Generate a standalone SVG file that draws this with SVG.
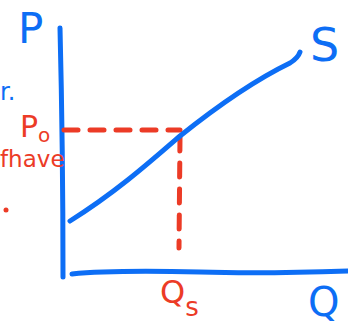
<svg xmlns="http://www.w3.org/2000/svg" width="348" height="331" viewBox="0 0 348 331">
<style>
.b{fill:none;stroke:#0d6ef5;stroke-width:5;stroke-linecap:round;stroke-linejoin:round}
.r{fill:none;stroke:#ec3b26;stroke-width:5;stroke-linecap:round;stroke-dasharray:14 12}
.tb{fill:#0d6ef5;font-family:"DejaVu Sans",sans-serif}
.tr{fill:#ec3b26;font-family:"DejaVu Sans",sans-serif}
</style>
<rect width="348" height="331" fill="#fff"/>
<g id="connectors">
<path class="b" d="M60,28 Q63,150 63,277"/>
<path class="b" d="M72,274 Q110,270 200,272 Q260,274 348,271"/>
<path class="r" d="M64,130 L180,130"/>
<path class="r" d="M180,137 L179,248"/>
</g>
<g id="supply">
<path class="b" d="M70,221 C115,193 150,162 180,136 C215,108 255,80 290,63 Q298,58 300,52"/>
</g>
<g id="labels">
<text class="tb" x="18" y="43" font-size="42">P</text>
<text class="tb" x="310" y="61" font-size="46">S</text>
<text class="tb" x="0" y="100" font-size="24">r.</text>
<text class="tr" x="20" y="137" font-size="30">P<tspan font-size="20" dy="5">o</tspan></text>
<text class="tr" x="0" y="167" font-size="23">fhave</text>
<circle cx="6" cy="210" r="2.5" fill="#ec3b26"/>
<text class="tr" x="160" y="303" font-size="32">Q<tspan font-size="26" dy="13">s</tspan></text>
<text class="tb" x="308" y="316" font-size="40">Q</text>
</g>
</svg>
